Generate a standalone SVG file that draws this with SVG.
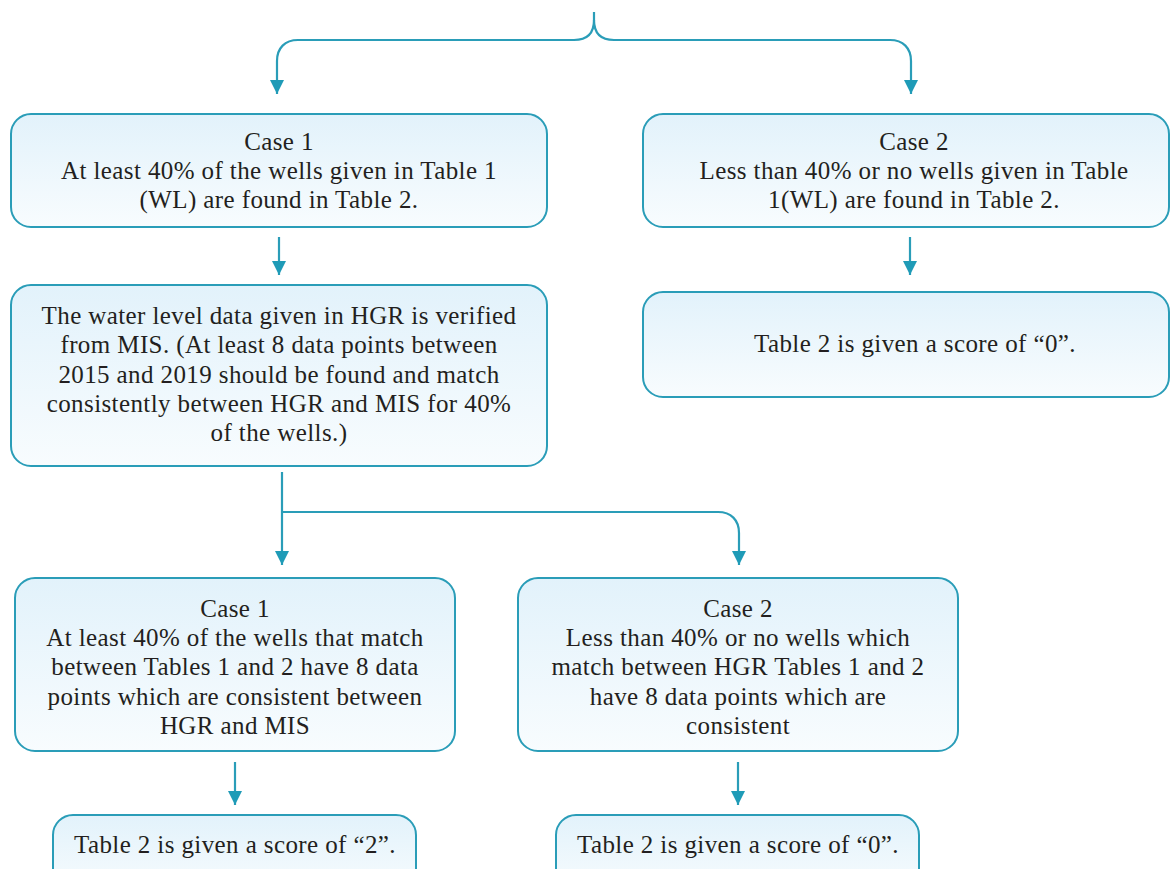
<svg xmlns="http://www.w3.org/2000/svg" width="1170" height="869" viewBox="0 0 1170 869">
  <defs>
    <linearGradient id="boxFill" x1="0" y1="0" x2="0" y2="1">
      <stop offset="0" stop-color="#e2f2fb"/>
      <stop offset="1" stop-color="#f8fcfe"/>
    </linearGradient>
    <marker id="arrow" markerUnits="userSpaceOnUse" markerWidth="16" markerHeight="14" refX="14" refY="7" orient="auto">
      <path d="M0,0 L14,7 L0,14 Z" fill="#1f9bb7"/>
    </marker>
    <style>
      .box { fill: url(#boxFill); stroke: #2a9db8; stroke-width: 2; }
      .conn { fill: none; stroke: #2a9db8; stroke-width: 2.2; }
      .lbl { font-family: "Liberation Serif", "Times New Roman", serif; font-size: 25px; letter-spacing: 0.4px; fill: #231f20; text-anchor: middle; }
    </style>
  </defs>

  <!-- connectors -->
  <g id="connectors">
    <path class="conn" d="M594,12 V20 C594,33 587,40 574,40 H298 C285,40 277,48 277,61 V94" marker-end="url(#arrow)"/>
    <path class="conn" d="M594,20 C594,33 601,40 614,40 H890 C903,40 911,48 911,61 V94" marker-end="url(#arrow)"/>
    <path class="conn" d="M279,237 V275" marker-end="url(#arrow)"/>
    <path class="conn" d="M910,237 V275" marker-end="url(#arrow)"/>
    <path class="conn" d="M282,472 V565" marker-end="url(#arrow)"/>
    <path class="conn" d="M282,512 H718 C731,512 739,520 739,533 V565" marker-end="url(#arrow)"/>
    <path class="conn" d="M235,762 V805" marker-end="url(#arrow)"/>
    <path class="conn" d="M738,762 V805" marker-end="url(#arrow)"/>
  </g>

  <g id="case1">
    <rect class="box" x="11" y="114" width="536" height="113" rx="20"/>
    <text class="lbl" x="279" y="150">Case 1</text>
    <text class="lbl" x="279" y="179">At least 40% of the wells given in Table 1</text>
    <text class="lbl" x="279" y="208">(WL) are found in Table 2.</text>
  </g>

  <g id="case2">
    <rect class="box" x="643" y="114" width="526" height="113" rx="20"/>
    <text class="lbl" x="914" y="150">Case 2</text>
    <text class="lbl" x="914" y="179">Less than 40% or no wells given in Table</text>
    <text class="lbl" x="914" y="208">1(WL) are found in Table 2.</text>
  </g>

  <g id="verify">
    <rect class="box" x="11" y="285" width="536" height="181" rx="20"/>
    <text class="lbl" x="279" y="324">The water level data given in HGR is verified</text>
    <text class="lbl" x="279" y="353">from MIS. (At least 8 data points between</text>
    <text class="lbl" x="279" y="383">2015 and 2019 should be found and match</text>
    <text class="lbl" x="279" y="412">consistently between HGR and MIS for 40%</text>
    <text class="lbl" x="279" y="441">of the wells.)</text>
  </g>

  <g id="score0-top">
    <rect class="box" x="643" y="292" width="526" height="105" rx="20"/>
    <text class="lbl" x="915" y="352">Table 2 is given a score of “0”.</text>
  </g>

  <g id="subcase1">
    <rect class="box" x="15" y="578" width="440" height="173" rx="20"/>
    <text class="lbl" x="235" y="617">Case 1</text>
    <text class="lbl" x="235" y="646">At least 40% of the wells that match</text>
    <text class="lbl" x="235" y="675">between Tables 1 and 2 have 8 data</text>
    <text class="lbl" x="235" y="705">points which are consistent between</text>
    <text class="lbl" x="235" y="734">HGR and MIS</text>
  </g>

  <g id="subcase2">
    <rect class="box" x="518" y="578" width="440" height="173" rx="20"/>
    <text class="lbl" x="738" y="617">Case 2</text>
    <text class="lbl" x="738" y="646">Less than 40% or no wells which</text>
    <text class="lbl" x="738" y="675">match between HGR Tables 1 and 2</text>
    <text class="lbl" x="738" y="705">have 8 data points which are</text>
    <text class="lbl" x="738" y="734">consistent</text>
  </g>

  <g id="score2">
    <rect class="box" x="53" y="815" width="363" height="80" rx="20"/>
    <text class="lbl" x="235" y="853">Table 2 is given a score of “2”.</text>
  </g>

  <g id="score0-bottom">
    <rect class="box" x="556" y="815" width="363" height="80" rx="20"/>
    <text class="lbl" x="738" y="853">Table 2 is given a score of “0”.</text>
  </g>
</svg>
